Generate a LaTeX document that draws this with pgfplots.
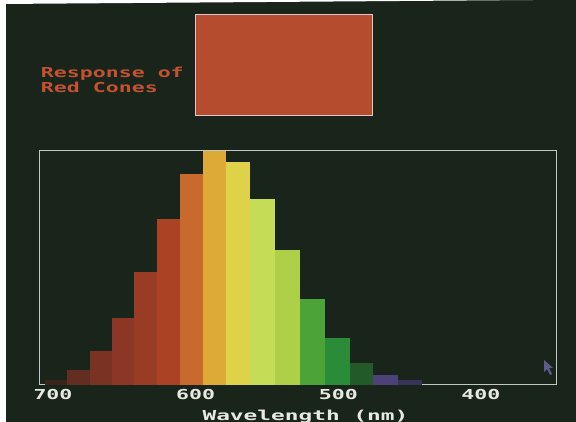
\documentclass[border=0pt]{standalone}
\usepackage{pgfplots}
\pgfplotsset{compat=1.18}
\usepackage{fontspec}
\newfontfamily\pix[FakeStretch=1.57]{DejaVu Sans Mono}
\newfontfamily\pixw[FakeStretch=1.66]{DejaVu Sans Mono}
\definecolor{bg}{RGB}{25,37,26}
\definecolor{titlec}{RGB}{196,82,50}
\definecolor{rectc}{RGB}{182,76,46}
\definecolor{rectb}{RGB}{222,196,205}
\definecolor{framec}{RGB}{196,198,196}
\definecolor{labc}{RGB}{232,234,226}
\definecolor{cur}{RGB}{95,90,140}
\definecolor{c1}{RGB}{58,36,26}
\definecolor{c2}{RGB}{98,46,31}
\definecolor{c3}{RGB}{122,50,34}
\definecolor{c4}{RGB}{140,55,37}
\definecolor{c5}{RGB}{152,60,38}
\definecolor{c6}{RGB}{172,66,36}
\definecolor{c7}{RGB}{200,106,45}
\definecolor{c8}{RGB}{222,170,55}
\definecolor{c9}{RGB}{222,210,72}
\definecolor{c10}{RGB}{196,220,86}
\definecolor{c11}{RGB}{174,208,72}
\definecolor{c12}{RGB}{76,164,56}
\definecolor{c13}{RGB}{42,140,56}
\definecolor{c14}{RGB}{36,90,42}
\definecolor{c15}{RGB}{76,66,120}
\definecolor{c16}{RGB}{56,50,90}
\begin{document}
\begin{tikzpicture}
\useasboundingbox (0,0) rectangle (432pt,316.5pt);
\clip (0,0) rectangle (432pt,316.5pt);
\fill[bg] (0,0) rectangle (432pt,316.5pt);
\fill[white] (0,0) rectangle (4.5pt,316.5pt);
\fill[white] (0,316.5pt) -- (400pt,316.5pt) -- (0,313.5pt) -- cycle;
% colour swatch
\fill[rectc] (146.25pt,229.5pt) rectangle (279pt,305.25pt);
\draw[rectb, line width=0.75pt] (146.25pt,229.5pt) rectangle (279pt,305.25pt);
% title text
\node[anchor=base west, inner sep=0pt, text=titlec, font=\pix\bfseries\fontsize{10.3pt}{12pt}\selectfont] at (30.5pt,258.2pt) {Response of};
\node[anchor=base west, inner sep=0pt, text=titlec, font=\pix\bfseries\fontsize{10.3pt}{12pt}\selectfont] at (30.5pt,247pt) {Red Cones};
\begin{axis}[
  at={(30pt,27.75pt)}, anchor=south west,
  scale only axis, width=387pt, height=175.5pt,
  x dir=reverse,
  xmin=347.4, xmax=709.1, ymin=0, ymax=1,
  axis line style={draw=framec, line width=0.75pt},
  xtick={400,500,600,700},
  xticklabels={400,500,600,700},
  ytick=\empty,
  major tick length=0pt,
  xticklabel style={inner sep=0pt, yshift=-3pt, text=labc, font=\pix\bfseries\fontsize{10.3pt}{12pt}\selectfont},
  clip=false,
]
\addplot[ybar interval, fill=c1, draw=none] coordinates {(690.2,0.020) (705.6,0.020)};
\addplot[ybar interval, fill=c2, draw=none] coordinates {(674.1,0.062) (690.2,0.062)};
\addplot[ybar interval, fill=c3, draw=none] coordinates {(658.6,0.146) (674.1,0.146)};
\addplot[ybar interval, fill=c4, draw=none] coordinates {(643.2,0.288) (658.6,0.288)};
\addplot[ybar interval, fill=c5, draw=none] coordinates {(627.1,0.485) (643.2,0.485)};
\addplot[ybar interval, fill=c6, draw=none] coordinates {(611.0,0.709) (627.1,0.709)};
\addplot[ybar interval, fill=c7, draw=none] coordinates {(594.9,0.902) (611.0,0.902)};
\addplot[ybar interval, fill=c8, draw=none] coordinates {(578.7,1.000) (594.9,1.000)};
\addplot[ybar interval, fill=c9, draw=none] coordinates {(561.9,0.953) (578.7,0.953)};
\addplot[ybar interval, fill=c10, draw=none] coordinates {(544.4,0.796) (561.9,0.796)};
\addplot[ybar interval, fill=c11, draw=none] coordinates {(526.9,0.578) (544.4,0.578)};
\addplot[ybar interval, fill=c12, draw=none] coordinates {(509.4,0.366) (526.9,0.366)};
\addplot[ybar interval, fill=c13, draw=none] coordinates {(491.8,0.199) (509.4,0.199)};
\addplot[ybar interval, fill=c14, draw=none] coordinates {(475.7,0.095) (491.8,0.095)};
\addplot[ybar interval, fill=c15, draw=none] coordinates {(458.2,0.043) (475.7,0.043)};
\addplot[ybar interval, fill=c16, draw=none] coordinates {(441.4,0.022) (458.2,0.022)};
\end{axis}
% cursor
\fill[cur] (408pt,46.5pt) -- (408pt,37.5pt) -- (410.25pt,39.75pt) -- (412.5pt,35.25pt) -- (414pt,36pt) -- (411.75pt,40.5pt) -- (414.75pt,40.5pt) -- cycle;
% axis label
\node[anchor=base, inner sep=0pt, text=labc, font=\pixw\bfseries\fontsize{10.3pt}{12pt}\selectfont] at (229.1pt,1pt) {Wavelength (nm)};
\end{tikzpicture}
\end{document}
